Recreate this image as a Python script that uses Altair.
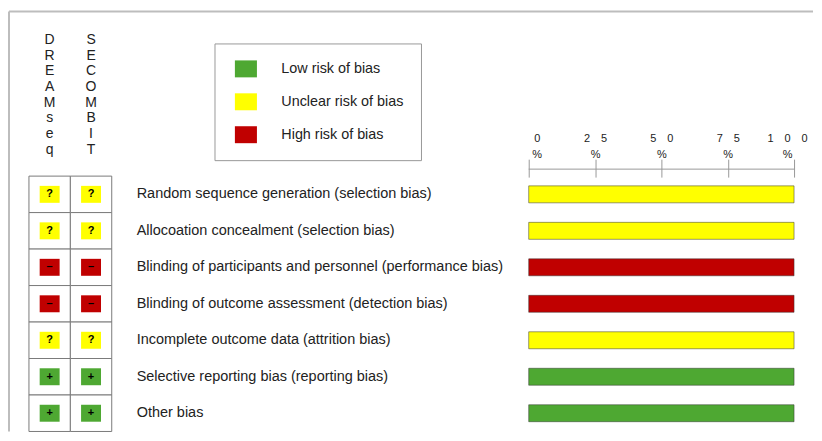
import altair as alt
import pandas as pd

criteria = [
    "Random sequence generation (selection bias)",
    "Allocoation concealment (selection bias)",
    "Blinding of participants and personnel (performance bias)",
    "Blinding of outcome assessment (detection bias)",
    "Incomplete outcome data (attrition bias)",
    "Selective reporting bias (reporting bias)",
    "Other bias",
]
studies = ["DREAMseq", "SECOMBIT"]
dreamseq = ["Unclear", "Unclear", "High", "High", "Unclear", "Low", "Low"]
secombit = ["Unclear", "Unclear", "High", "High", "Unclear", "Low", "Low"]

level_keys = ["Low", "Unclear", "High"]
level_names = ["Low risk of bias", "Unclear risk of bias", "High risk of bias"]
level_symbols = ["+", "?", "\u2013"]
level_colors = ["#4EA832", "#FFFF00", "#C00000"]
tick_values = [0, 25, 50, 75, 100]

name_of = dict(zip(level_keys, level_names))
sym_of = dict(zip(level_keys, level_symbols))

rows = []
for study, judgements in zip(studies, [dreamseq, secombit]):
    for crit, j in zip(criteria, judgements):
        rows.append({"criterion": crit, "study": study,
                     "judgement": name_of[j], "symbol": sym_of[j]})
df = pd.DataFrame(rows)
df_labels = pd.DataFrame({"criterion": criteria})

FONT = "Liberation Sans"

y_enc = alt.Y("criterion:N",
              scale=alt.Scale(domain=criteria, range=[165, 421],
                              paddingInner=0, paddingOuter=0),
              axis=None)

legend = alt.Legend(orient="none", legendX=206, legendY=32, title=None,
                    symbolType="M-1.3,-1H1.3V1H-1.3Z", symbolSize=289,
                    symbolStrokeWidth=0, symbolOffset=6,
                    labelFontSize=14.4, labelFont=FONT,
                    labelColor="#222", labelOffset=27,
                    rowPadding=16, padding=17, strokeColor="#999")
color_scale = alt.Scale(domain=level_names, range=level_colors)
color_enc = alt.Color("judgement:N", scale=color_scale, legend=legend)

table_scale = alt.Scale(domain=studies, range=[20, 103], paddingInner=0, paddingOuter=0)
table_axis = alt.Axis(orient="top", offset=-32, domain=False, ticks=False,
                      labelAngle=0, labelExpr="split(datum.label, '')",
                      labelLineHeight=15.7, labelFontSize=14, labelFont=FONT,
                      labelColor="#222", labelPadding=0, labelBaseline="alphabetic",
                      title=None, grid=False)
table_x = alt.X("study:N", scale=table_scale, axis=table_axis)

grid = alt.Chart(df).mark_rect(fill="white", stroke="#7a7a7a", strokeWidth=1).encode(
    x=table_x, y=y_enc)
icons = alt.Chart(df).mark_rect(width=20, height=17).encode(
    x=table_x, y=y_enc, color=color_enc)
symbols = alt.Chart(df).mark_text(fontWeight="bold", fontSize=11, color="black",
                                  font=FONT, baseline="middle").encode(
    x=table_x, y=y_enc, text="symbol:N")
table = alt.layer(grid, icons, symbols)

labels = alt.Chart(df_labels).mark_text(align="left", baseline="middle", fontSize=14.5,
                                        font=FONT, color="#222").encode(
    x=alt.value(128), y=y_enc, text="criterion:N")

label_expr = "[join(split(format(datum.value*100, 'd'), ''), '\u2003'), '%']"
bar_scale = alt.Scale(domain=[0, 1], range=[521, 787], nice=False)
bar_axis = alt.Axis(orient="top", values=[v / 100 for v in tick_values],
                    offset=-166, domain=False, tickSize=18, tickColor="#999",
                    tickWidth=1, labelExpr=label_expr, labelFontSize=11,
                    labelLineHeight=16, labelPadding=18, labelColor="#222",
                    labelFont=FONT, labelBaseline="alphabetic", labelFlush=False,
                    labelOffset={"condition": [
                        {"test": "datum.value == 0", "value": 8},
                        {"test": "datum.value == 1", "value": -7}],
                        "value": 0},
                    labelOverlap=False, title=None, grid=False)
bars = alt.Chart(df).mark_bar(height=17, stroke="#333", strokeOpacity=0.5,
                              strokeWidth=1).encode(
    x=alt.X("count():Q", stack="normalize", scale=bar_scale, axis=bar_axis),
    y=y_enc,
    color=color_enc,
)
axis_line = alt.Chart(pd.DataFrame({"a": [0], "b": [1]})).mark_rule(
    color="#999", strokeWidth=1).encode(
    x=alt.X("a:Q", scale=bar_scale, axis=bar_axis), x2="b:Q", y=alt.value(158))
bar_panel = alt.layer(bars, axis_line)

border = pd.DataFrame({"k": [0]})
border_top = alt.Chart(border).mark_rule(color="#bdbdbd", strokeWidth=2).encode(
    x=alt.value(0), x2=alt.value(806), y=alt.value(0))
border_left = alt.Chart(border).mark_rule(color="#bdbdbd", strokeWidth=2).encode(
    x=alt.value(0), y=alt.value(0), y2=alt.value(421))

chart = alt.layer(border_top, border_left, table, labels, bar_panel).resolve_scale(
    x="independent").resolve_axis(x="independent").properties(
    width=806, height=418, padding={"left": 0, "top": 2, "right": 0, "bottom": 0}
).configure(font=FONT).configure_view(stroke=None)

chart.save("out.html", embed_options={"renderer": "svg", "actions": False})
